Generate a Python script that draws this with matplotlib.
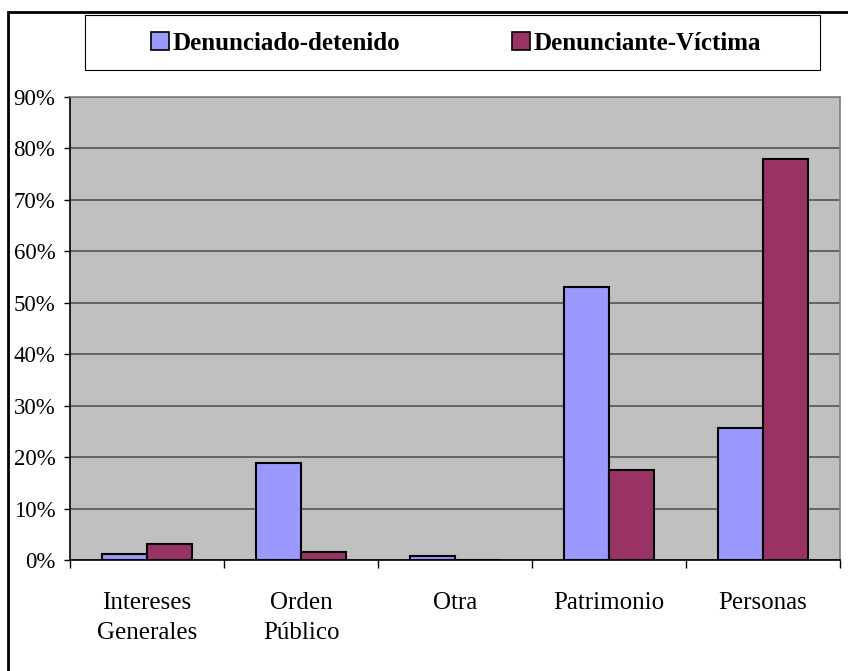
import matplotlib.pyplot as plt
import numpy as np
from matplotlib.patches import Patch, Rectangle

plt.rcParams['font.family'] = ['Liberation Serif', 'DejaVu Serif']

categories = ["Intereses\nGenerales", "Orden\nPúblico", "Otra", "Patrimonio", "Personas"]
detenido = [1.2, 18.8, 0.8, 53.0, 25.7]
victima = [3.2, 1.6, 0.0, 17.4, 78.0]
yticks = [0, 10, 20, 30, 40, 50, 60, 70, 80, 90]

blue = "#9999FF"
red = "#993366"

W, H = 848, 671
fig = plt.figure(figsize=(W / 100, H / 100), dpi=100)
ax = fig.add_axes([70 / W, 1 - 560 / H, 770 / W, 463 / H])
ax.set_facecolor("#C0C0C0")

x = np.arange(len(categories))
w = 0.29
ax.bar(x - w / 2, detenido, w, color=blue, edgecolor="black", linewidth=1.5, zorder=3)
ax.bar(x + w / 2, victima, w, color=red, edgecolor="black", linewidth=1.5, zorder=3)

ax.set_xlim(-0.5, len(categories) - 0.5)
ax.set_ylim(0, 90)
ax.set_yticks(yticks)
ax.set_yticklabels([f"{v}%" for v in yticks], fontsize=16.5)
ax.yaxis.grid(True, color="#555555", linewidth=1.2, zorder=0)
ax.set_axisbelow(True)

ax.set_xticks(x)
ax.set_xticklabels(categories, fontsize=18, linespacing=1.5, va="top")
ax.tick_params(axis="x", which="major", length=0, pad=23)
ax.set_xticks(np.arange(len(categories) + 1) - 0.5, minor=True)
ax.tick_params(axis="x", which="minor", length=6, width=1, color="black")
ax.tick_params(axis="y", length=4.5, width=1, color="black", pad=6)

ax.spines["top"].set_color("#808080")
ax.spines["right"].set_color("#808080")
ax.spines["left"].set_color("black")
ax.spines["bottom"].set_color("black")
for s in ax.spines.values():
    s.set_linewidth(1.2)

# legend box drawn separately so the padding can be wide
fig.add_artist(Rectangle((85 / W, 1 - 70 / H), 735 / W, 55 / H,
                         transform=fig.transFigure, facecolor="white",
                         edgecolor="black", linewidth=0.8))
handles = [Patch(facecolor=blue, edgecolor="black", linewidth=1.2),
           Patch(facecolor=red, edgecolor="black", linewidth=1.2)]
leg = fig.legend(handles, ["Denunciado-detenido", "Denunciante-Víctima"],
                 loc="center", bbox_to_anchor=(456 / W, 1 - 43 / H), ncol=2,
                 prop={"weight": "bold", "size": 18}, frameon=False,
                 handlelength=0.72, handleheight=0.72,
                 handletextpad=0.16, columnspacing=4.45, borderpad=0,
                 borderaxespad=0)

# outer chart border (right and bottom edges fall outside the image)
fig.add_artist(Rectangle((8 / W, -0.05), 1.0, 1 - 12 / H + 0.05,
                         transform=fig.transFigure, fill=False,
                         edgecolor="black", linewidth=2))

fig.savefig("out.png", dpi=100)
